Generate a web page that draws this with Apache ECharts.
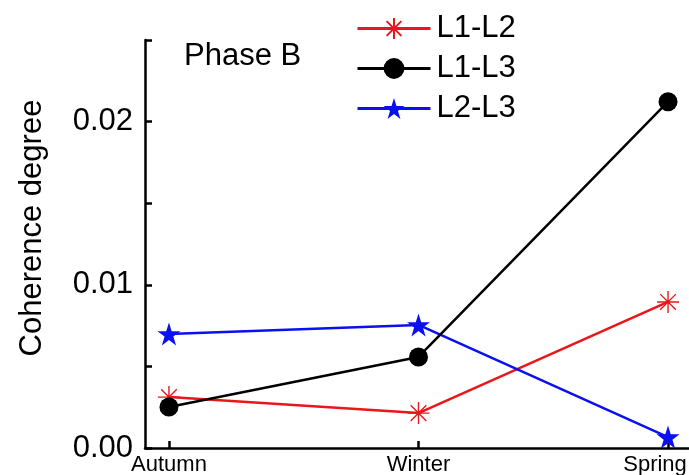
<!DOCTYPE html>
<html>
<head>
<meta charset="utf-8">
<script src="https://cdn.jsdelivr.net/npm/echarts@6/dist/echarts.min.js"></script>
<style>html,body{margin:0;padding:0;background:#fff}#c{width:689px;height:475px}</style>
</head>
<body>
<div id="c"></div>
<script>
var categories = ['Autumn', 'Winter', 'Spring'];
var seriesNames = ['L1-L2', 'L1-L3', 'L2-L3'];
var l1l2 = [0.00312, 0.00214, 0.00895];
var l1l3 = [0.00251, 0.00558, 0.02122];
var l2l3 = [0.00699, 0.00754, 0.00067];
var yTicks = [0, 0.005, 0.01, 0.015, 0.02, 0.025];

function pts(arr) { return arr.map(function (v, i) { return [i, v]; }); }

var FONT = 'Liberation Sans, Arial, sans-serif';
var RED = '#e8171b', BLUE = '#0a10f0', BLACK = '#000';
var asterisk = 'path://M10,0 L10,20 M0,10 L20,10 M2.9,2.9 L17.1,17.1 M2.9,17.1 L17.1,2.9';
var star = 'path://M50,0 L61.8,36.2 L100,36.2 L69.1,58.6 L80.9,95.1 L50,72.7 L19.1,95.1 L30.9,58.6 L0,36.2 L38.2,36.2 Z';

var chart = echarts.init(document.getElementById('c'));
chart.setOption({
  animation: false,
  backgroundColor: '#fff',
  grid: { left: 145, right: 0, top: 40, bottom: 27, outerBoundsMode: 'none' },
  xAxis: {
    type: 'value', min: -0.096, max: 2.084,
    splitLine: { show: false },
    axisLine: { onZero: false, lineStyle: { color: BLACK, width: 2.5 } },
    axisTick: { inside: true, length: 7, lineStyle: { width: 2.5, color: BLACK }, customValues: [0, 1, 2] },
    axisLabel: {
      customValues: [0, 1, 2], margin: 6, color: BLACK, fontFamily: FONT, fontSize: 22,
      formatter: function (v) {
        var i = Math.round(v);
        return i === 2 ? '{s|' + categories[i] + '}' : categories[i];
      },
      rich: { s: { fontFamily: FONT, fontSize: 22, color: BLACK, padding: [0, 26, 0, 0] } }
    }
  },
  yAxis: {
    type: 'value', min: 0, max: yTicks[yTicks.length - 1], interval: 0.005,
    name: 'Coherence degree', nameLocation: 'middle', nameGap: 97,
    nameTextStyle: { fontFamily: FONT, fontSize: 31, color: BLACK, padding: [0, 0, 0, 32] },
    splitLine: { show: false },
    axisLine: { show: true, onZero: false, lineStyle: { color: BLACK, width: 2.5 } },
    axisTick: { inside: true, length: 7, lineStyle: { width: 2.5, color: BLACK } },
    axisLabel: {
      margin: 12, color: BLACK, fontFamily: FONT, fontSize: 31,
      formatter: function (v) {
        var k = v * 100;
        return Math.abs(k - Math.round(k)) < 1e-6 ? v.toFixed(2) : '';
      }
    }
  },
  legend: {
    orient: 'vertical', left: 351, top: 8, itemWidth: 73, itemHeight: 26, itemGap: 9,
    data: seriesNames,
    lineStyle: { width: 3 },
    textStyle: { fontFamily: FONT, fontSize: 31, color: BLACK, padding: [0, 0, 0, 1] }
  },
  graphic: [{
    type: 'text', left: 184, top: 41,
    style: { text: 'Phase B', fontFamily: FONT, fontSize: 31, fill: BLACK }
  }],
  series: [
    {
      name: seriesNames[0], type: 'line', data: pts(l1l2), z: 2,
      symbol: asterisk, symbolSize: 22,
      lineStyle: { color: RED, width: 2.5 },
      itemStyle: { color: 'rgba(0,0,0,0)', borderColor: RED, borderWidth: 1.4 }
    },
    {
      name: seriesNames[1], type: 'line', data: pts(l1l3), z: 4,
      symbol: 'circle', symbolSize: 19,
      lineStyle: { color: BLACK, width: 2.5 },
      itemStyle: { color: BLACK }
    },
    {
      name: seriesNames[2], type: 'line', data: pts(l2l3), z: 3,
      symbol: star, symbolSize: 23,
      lineStyle: { color: BLUE, width: 2.5 },
      itemStyle: { color: BLUE }
    }
  ]
});
</script>
</body>
</html>
